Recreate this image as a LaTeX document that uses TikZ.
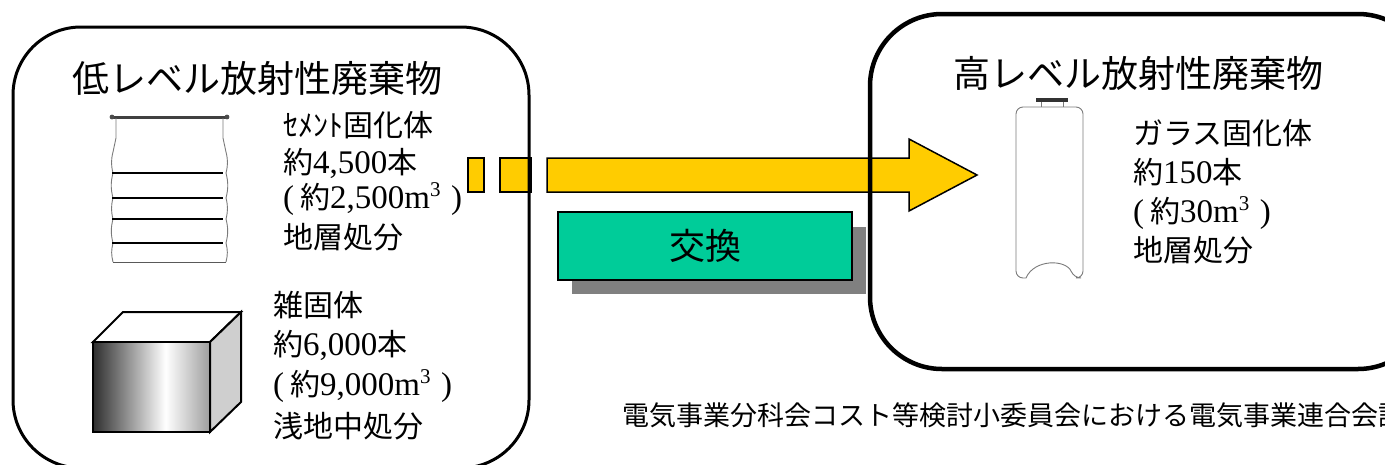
\documentclass[tikz,border=0pt]{standalone}
\usepackage{fontspec}
\setmainfont{Noto Sans CJK JP}
\newfontfamily\lat{Liberation Serif}
\newcommand\fsz[1]{\fontsize{#1}{#1}\selectfont}
% serif figures used inside the Japanese lines
\newcommand\dg[1]{{\lat\fsz{33}#1}}
\newcommand\cubic{\raisebox{0.42em}{\lat\fsz{21}3}}
\newcommand\volume[1]{\dg{(}\hspace{0.2em}約\dg{#1m}\cubic\hspace{0.35em}\dg{)}}
\definecolor{arrowyellow}{HTML}{FFCC00}
\definecolor{swapgreen}{HTML}{00CC99}
\definecolor{shadowgray}{HTML}{808080}
\definecolor{sketch}{HTML}{7A7A7A}
% front face of the block: dark at the left, white near two thirds, grey at the right
\pgfdeclarehorizontalshading{cubeface}{100bp}{color(0bp)=(black!82); color(25bp)=(black!82); color(56bp)=(white); color(75bp)=(black!38); color(100bp)=(black!38)}
\tikzset{
  heading/.style={font=\fsz{37}, inner sep=0pt, anchor=west},
  body/.style={font=\fsz{30}, inner sep=0pt, anchor=west},
  panel/.style={draw=black, rounded corners=68pt},
  yellowpart/.style={fill=arrowyellow, draw=black, line width=1.5pt, line join=miter},
  band/.style={draw=black, line width=2.4pt},
  outline/.style={draw=sketch, line width=0.9pt},
}
\begin{document}
\begin{tikzpicture}[x=1pt,y=-1pt]
\useasboundingbox (0,0) rectangle (1385,464);
\clip (0,0) rectangle (1385,464);

% ---- transfer arrow (drawn first so the panel borders cross it) ----
\path[yellowpart] (468,158) rectangle (484,192);
\path[yellowpart] (500,158) rectangle (531,192);
\path[yellowpart] (547,158) -- (909,158) -- (909,139) -- (977,175)
      -- (909,211) -- (909,192) -- (547,192) -- cycle;

% ---- exchange box with drop shadow ----
\fill[shadowgray] (572,227) rectangle (866,294);
\node[draw=black, line width=1.5pt, fill=swapgreen, minimum width=294pt,
      minimum height=68pt, inner sep=0pt, font=\fsz{36}] (swap) at (705,246) {交換};

% ---- panels ----
\draw[panel, line width=3pt] (13,27) rectangle (529,468);
\draw[panel, line width=4.5pt, rounded corners=72pt] (870,14) rectangle (1430,369);

% ---- left panel: low-level waste ----
\node[heading] (lowtitle) at (72,78) {低レベル放射性廃棄物};

% cement-solidified drum
\draw[draw=black!75, line width=3pt, line cap=round] (112,117) -- (227,117);
\fill[black!70] (112,117) circle (2.4pt) (227,117) circle (2.4pt);
\draw[outline] (116,118) -- (116,138) -- (113,152)
   to[bend right=14] (113,173) to[bend right=14] (113,198)
   to[bend right=14] (113,219) to[bend right=14] (113,243)
   to[bend right=14] (113,262);
\draw[outline] (223,118) -- (223,138) -- (226,152)
   to[bend left=14] (226,173) to[bend left=14] (226,198)
   to[bend left=14] (226,219) to[bend left=14] (226,243)
   to[bend left=14] (226,262);
\draw[draw=black!65, line width=1pt] (113,262) -- (226,262);
\foreach \yy in {173,198,219,243}
  \draw[band] (112,\yy) -- (223,\yy);

\node[body] (cemname) at (283,125) {ｾﾒﾝﾄ固化体};
\node[body] (cemcount) at (283,163) {約\dg{4,500}本};
\node[body] (cemvol) at (283,199) {\volume{2,500}};
\node[body] (cemdisp) at (283,237) {地層処分};

% miscellaneous solid waste block
\draw[line width=2pt, fill=white, line join=miter] (93,342) -- (123,312) -- (241,312) -- (210,342) -- cycle;
\draw[line width=2pt, fill=black!19, line join=miter] (210,342) -- (241,312) -- (241,402) -- (210,432) -- cycle;
\draw[line width=2pt, shading=cubeface, line join=miter] (93,342) rectangle (210,432);

\node[body] (miscname) at (273,305) {雑固体};
\node[body] (misccount) at (273,345) {約\dg{6,000}本};
\node[body] (miscvol) at (273,386) {\volume{9,000}};
\node[body] (miscdisp) at (273,426) {浅地中処分};

% ---- right panel: high-level waste ----
\node[heading] (hightitle) at (953,73) {高レベル放射性廃棄物};

% vitrified waste canister
\fill[black!80] (1036,97.5) rectangle (1068,102);
\draw[outline] (1041,102) -- (1041,107) (1063,102) -- (1063,107);
\draw[outline, rounded corners=7pt] (1026,278) -- (1016,278) -- (1016,107)
   -- (1083,107) -- (1083,278) -- (1074,278) [sharp corners]
   .. controls (1066,259) and (1034,259) .. (1026,278) -- cycle;

\node[body] (glassname) at (1133,133) {ガラス固化体};
\node[body] (glasscount) at (1133,172) {約\dg{150}本};
\node[body] (glassvol) at (1133,213) {\volume{30}};
\node[body] (glassdisp) at (1133,250) {地層処分};

% ---- source note ----
\node[font=\fsz{27}, inner sep=0pt, anchor=west] (source) at (622,415)
  {電気事業分科会コスト等検討小委員会における電気事業連合会試算};
\end{tikzpicture}
\end{document}
